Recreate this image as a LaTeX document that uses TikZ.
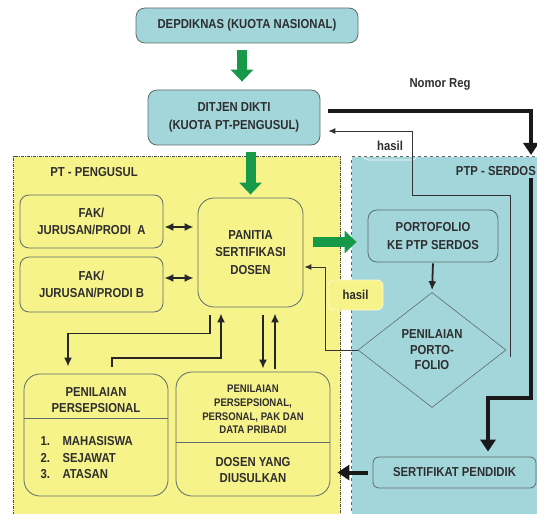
\documentclass[tikz,border=0pt]{standalone}
\usepackage{fontspec}
\setmainfont{Liberation Sans}[FakeStretch=0.87]
\usepackage{xcolor}
\usetikzlibrary{arrows.meta,positioning,shapes.geometric}

\definecolor{boxcyan}{HTML}{A3D6DB}
\definecolor{boxyellow}{HTML}{F6F38B}
\definecolor{arrowgreen}{HTML}{17994A}
\definecolor{edgegray}{HTML}{5F6B6C}
\definecolor{textgray}{HTML}{2E2E2E}

\begin{document}
\begin{tikzpicture}[
    x=1pt, y=-1pt,
    font=\bfseries\fontsize{13}{17.5}\selectfont,
    text=textgray,
    block/.style={rectangle, draw=edgegray, rounded corners=9pt, line width=0.8pt, align=center, inner sep=0pt},
    cyanbox/.style={block, fill=boxcyan},
    yellowbox/.style={block, fill=boxyellow},
    region/.style={rectangle, line width=1pt, inner sep=0pt, anchor=north west},
    greenarrow/.style={draw=arrowgreen, line width=10pt, -{Triangle[width=22pt,length=12pt]}},
    arrow/.style={draw=black!85, line width=1.8pt, -{Latex[length=9pt,width=8pt]}},
    dualarrow/.style={draw=black!85, line width=1.8pt, {Latex[length=9pt,width=8pt]}-{Latex[length=9pt,width=8pt]}},
    heavyarrow/.style={draw=black!90, line width=4pt, -{Triangle[width=15pt,length=12pt]}},
    linkarrow/.style={draw=black!80, line width=0.9pt, -{Latex[length=7pt,width=6pt]}}
]
\useasboundingbox (0,0) rectangle (537,513);

% Regions
\node[region, fill=boxyellow, draw=black!70, densely dashdotted, minimum width=327pt, minimum height=365pt] (ptregion) at (13,156) {};
\node[region, fill=boxcyan, draw=black!60, dashed, minimum width=200pt, minimum height=365pt] (ptpregion) at (351,156) {};
\node (ptlabel) at (94,172) {PT - PENGUSUL};
\node[anchor=east, inner sep=0pt] (ptplabel) at (536,171) {PTP - SERDOS};

% Top level
\node[cyanbox, minimum width=222pt, minimum height=35pt] (depdiknas) at (247,25.5) {DEPDIKNAS (KUOTA NASIONAL)};
\node[cyanbox, minimum width=172pt, minimum height=55pt] (ditjen) at (234,117.5) {DITJEN DIKTI\\(KUOTA PT-PENGUSUL)};
\node (nomorreg) at (440,84) {Nomor Reg};
\node[draw=white, line width=0.6pt, rounded corners=5pt, minimum width=54pt, minimum height=28pt] (hasiltop) at (390,146) {hasil};

% PT - Pengusul
\node[yellowbox, minimum width=143pt, minimum height=53pt] (fakA) at (91.5,221.5) {FAK/\\JURUSAN/PRODI\ \ A};
\node[yellowbox, minimum width=143pt, minimum height=55pt] (fakB) at (91.5,284.5) {FAK/\\JURUSAN/PRODI B};
\node[yellowbox, minimum width=105pt, minimum height=109pt, rounded corners=16pt] (panitia) at (250.5,252.5) {PANITIA\\SERTIFIKASI\\DOSEN};
\node[yellowbox, minimum width=144pt, minimum height=122pt, rounded corners=16pt] (persepsional) at (96,435) {};
\draw[edgegray, line width=0.8pt] (persepsional.west |- 0,418) -- (persepsional.east |- 0,418);
\node[align=center, font=\bfseries\fontsize{13}{16}\selectfont] (perstitle) at (96,400) {PENILAIAN\\PERSEPSIONAL};
\node[anchor=west, align=left, font=\bfseries\fontsize{13}{16.5}\selectfont] (perslist) at (37,458)
    {\makebox[22pt][l]{1.}MAHASISWA\\\makebox[22pt][l]{2.}SEJAWAT\\\makebox[22pt][l]{3.}ATASAN};
\node[yellowbox, minimum width=154pt, minimum height=124pt, rounded corners=16pt] (dosen) at (253,434) {};
\draw[edgegray, line width=0.8pt] (dosen.west |- 0,442) -- (dosen.east |- 0,442);
\node[font=\bfseries\fontsize{11}{13.7}\selectfont, align=center] (dosentitle) at (253,409.5) {PENILAIAN\\PERSEPSIONAL,\\PERSONAL, PAK DAN\\DATA PRIBADI};
\node[font=\bfseries\fontsize{13}{16}\selectfont, align=center] (dosenname) at (253,470) {DOSEN YANG\\DIUSULKAN};
\node[yellowbox, draw=white!60!boxyellow, rounded corners=6pt, minimum width=55pt, minimum height=30pt] (hasilbox) at (355.5,295) {hasil};

% PTP - Serdos
\node[cyanbox, minimum width=130pt, minimum height=52pt] (portofolio) at (433,236) {PORTOFOLIO\\KE PTP SERDOS};
\node[diamond, draw=edgegray, line width=0.6pt, fill=boxcyan, minimum width=148pt, minimum height=115pt, inner sep=0pt, align=center, font=\bfseries\fontsize{13}{15.5}\selectfont] (penilaian) at (432,350) {PENILAIAN\\PORTO-\\FOLIO};
\node[cyanbox, rounded corners=6pt, minimum width=163pt, minimum height=31pt] (sertifikat) at (454.5,472.5) {SERTIFIKAT PENDIDIK};
\coordinate (regin) at (531,155);
\coordinate (regout) at (531,178);
\coordinate (regbend) at (488,398);
\coordinate (hasilout) at (510,357);
\coordinate (hasilturn) at (412,195);

% Green flow
\draw[greenarrow, shorten <=7pt, shorten >=8pt] (depdiknas.south -| 242,0) -- (ditjen.north -| 242,0);
\draw[greenarrow, shorten <=7pt, shorten >=3pt] (ditjen.south -| panitia.north) -- (panitia.north);
\draw[greenarrow, shorten <=10pt, shorten >=11pt] (panitia.east |- 0,242) -- (portofolio.west |- 0,242);

% Nomor registrasi
\draw[heavyarrow, shorten <=8pt] ([yshift=6.5pt]ditjen.east) -| (regin);
\draw[heavyarrow, shorten >=5pt] (regout) |- (regbend) -- (regbend |- sertifikat.north);
\draw[heavyarrow, shorten <=5pt, shorten >=7pt] (sertifikat.west) -- (sertifikat.west -| dosen.east);

% Hasil
\draw[linkarrow, shorten >=8pt] (hasilout) |- (hasilturn) |- ([yshift=-13.5pt]ditjen.east);
\draw[linkarrow, shorten >=1pt] (penilaian.west) -| ([xshift=22pt,yshift=-14.5pt]panitia.east) -- ([yshift=-14.5pt]panitia.east);
\draw[arrow, shorten <=1pt, shorten >=2pt] (portofolio.south) -- (penilaian.north);

% Internal PT links
\draw[dualarrow, shorten <=1pt, shorten >=4pt] (fakA.east |- 0,227) -- (panitia.west |- 0,227);
\draw[dualarrow, shorten <=1pt, shorten >=4pt] (fakB.east |- 0,278) -- (panitia.west |- 0,278);
\draw[arrow, shorten <=8pt, shorten >=7pt] ([xshift=-40.5pt]panitia.south) -- ++(0,26) -| ([xshift=-28pt]persepsional.north);
\draw[arrow, shorten <=7pt, shorten >=6pt] ([xshift=16pt]persepsional.north) -- ++(0,-16) -| ([xshift=-29.5pt]panitia.south);
\draw[arrow, shorten <=8pt, shorten >=3pt] (panitia.south -| 263,0) -- (dosen.north -| 263,0);
\draw[arrow, shorten <=3pt, shorten >=6pt] (dosen.north -| 275,0) -- (panitia.south -| 275,0);

\end{tikzpicture}
\end{document}
